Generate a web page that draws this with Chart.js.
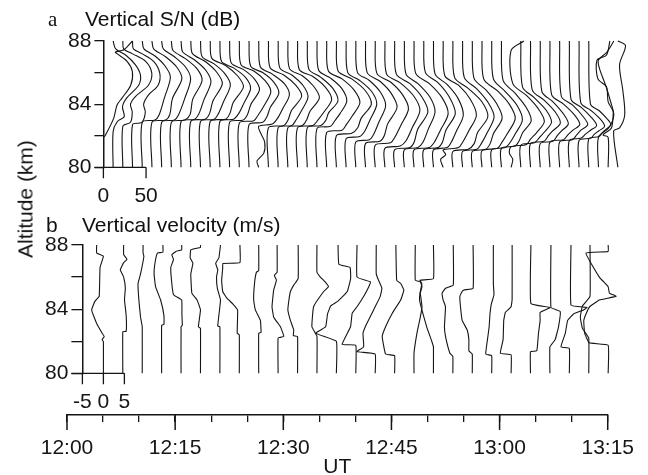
<!DOCTYPE html>
<html><head><meta charset="utf-8">
<script src="https://cdn.jsdelivr.net/npm/chart.js@4.4.1/dist/chart.umd.min.js"></script>
<style>
html,body{margin:0;padding:0;background:#fff;}
#wrap{position:relative;width:648px;height:475px;overflow:hidden;background:#fff;font-family:"Liberation Sans",Arial,sans-serif;color:#111;}
canvas{position:absolute;left:0;top:0;}
.t{position:absolute;white-space:nowrap;font-size:21px;line-height:21px;}
.serif{font-family:"Liberation Serif","Times New Roman",serif;}
</style></head><body>
<div id="wrap">
<canvas id="cA" width="648" height="475"></canvas>
<canvas id="cB" width="648" height="475"></canvas>
<canvas id="cC" width="648" height="475"></canvas>
<div class="t serif" style="left:48px;top:9px;">a</div>
<div class="t" style="left:85px;top:8px;">Vertical S/N (dB)</div>
<div class="t" style="left:46px;top:214px;">b</div>
<div class="t" style="left:82px;top:214px;">Vertical velocity (m/s)</div>
<div class="t" style="left:25px;top:199px;transform:translate(-50%,-50%) rotate(-90deg);">Altitude (km)</div>
</div>
<script>
// ---------------- DATA ----------------
// Profile start times (UT)
const snTimes = ['12:05:00','12:06:20','12:07:40','12:09:00','12:10:20','12:11:40','12:13:00','12:14:20','12:15:40','12:17:00',
 '12:18:20','12:19:40','12:21:00','12:22:20','12:23:40','12:25:00','12:26:20','12:27:40','12:29:00','12:30:20',
 '12:31:40','12:33:00','12:34:20','12:35:40','12:37:00','12:38:20','12:39:40','12:41:00','12:42:20','12:43:40',
 '12:45:00','12:46:20','12:47:40','12:49:00','12:50:20','12:51:40','12:53:00','12:54:20','12:55:40','12:57:00',
 '12:58:20','12:59:40','13:01:00','13:02:20','13:03:40','13:05:00','13:06:20','13:07:40','13:09:00','13:10:20',
 '13:11:40','13:13:00','13:14:20','13:15:40'];
const velTimes = ['12:05:00','12:07:40','12:10:20','12:13:00','12:15:40','12:18:20','12:21:00','12:23:40','12:26:20','12:29:00',
 '12:31:40','12:34:20','12:37:00','12:39:40','12:42:20','12:45:00','12:47:40','12:50:20','12:53:00','12:55:40',
 '12:58:20','13:01:00','13:03:40','13:06:20','13:09:00','13:11:40','13:14:20'];

// Vertical S/N profiles: [altitude km, S/N dB above profile baseline]
const snProfiles = [
 [[81.9,0],[82.0,2],[83.1,12],[83.95,16],[84.4,22],[85.2,32],[86.05,34],[86.7,28],[87.2,16],[87.3,14],[87.45,24],[88,34]],
 [[80,0],[82.25,0],[82.9,5],[83.2,13],[83.85,11],[84.4,16],[85.2,30],[85.85,32],[86.5,26],[87.1,15],[87.5,3],[88,0]],
 [[80,0],[82.6,0],[82.85,9],[83.5,11],[84.0,9],[84.5,15],[85.2,30],[85.95,34],[86.7,27],[87.2,11],[87.5,1],[88,0]],
 [[80,0],[82.7,0],[82.85,11],[83.5,15],[84.0,13],[84.6,19],[85.2,30],[85.95,32],[86.7,25],[87.2,11],[87.5,1],[88,0]],
 [[80,0],[82.85,0],[83.0,15],[83.35,20],[84.4,26],[85.7,33],[86.4,27],[87.05,15],[87.5,2],[88,0]],
 [[80,0],[82.85,0],[83.0,16],[83.35,21],[84.35,24],[85.6,35],[86.35,29],[87.0,16],[87.5,2],[88,0]],
 [[80,0],[82.85,0],[83.0,15],[83.35,20],[84.35,27],[85.6,34],[86.35,28],[87.0,15],[87.5,2],[88,0]],
 [[80,0],[82.85,0],[83.0,16],[83.35,22],[84.3,25],[85.5,36],[86.25,30],[86.9,16],[87.4,2],[88,0]],
 [[80,0],[82.9,0],[83.05,16],[83.4,21],[84.3,27],[85.4,35],[86.15,29],[86.8,16],[87.3,2],[88,0]],
 [[80,0],[82.9,0],[83.05,17],[83.4,22],[84.2,26],[85.3,37],[86.05,30],[86.7,17],[87.2,2],[88,0]],
 [[80,0],[82.9,0],[83.05,16],[83.4,21],[84.15,27],[85.2,35],[85.9,29],[86.55,16],[87.0,2],[88,0]],
 [[80,0],[82.9,0],[83.05,18],[83.4,23],[84.1,27],[85.1,39],[85.8,32],[86.45,18],[86.9,2],[88,0]],
 [[80,0],[82.9,0],[83.05,16],[83.4,22],[84.05,28],[85.0,36],[85.7,30],[86.3,16],[86.7,2],[88,0]],
 [[80,0],[82.85,0],[83.0,16],[83.35,21],[84.0,25],[84.9,35],[85.6,29],[86.2,16],[86.6,2],[88,0]],
 [[80,0],[82.8,0],[82.95,17],[83.3,22],[83.9,29],[84.8,37],[85.5,30],[86.1,17],[86.5,2],[88,0]],
 [[80,0],[82.7,0],[82.85,16],[83.2,21],[83.8,25],[84.7,35],[85.4,29],[86.0,16],[86.4,2],[88,0]],
 [[80,0],[80.4,-2],[80.9,6],[81.6,7],[82.2,2],[82.6,0],[82.75,16],[83.1,22],[83.7,28],[84.6,36],[85.3,30],[85.9,16],[86.35,2],[88,0]],
 [[80,0],[82.5,0],[82.65,18],[83.0,23],[83.6,27],[84.5,39],[85.2,32],[85.85,18],[86.3,2],[88,0]],
 [[80,0],[82.5,0],[82.65,16],[83.0,21],[83.55,27],[84.45,35],[85.2,29],[85.85,16],[86.3,2],[88,0]],
 [[80,0],[82.5,0],[82.65,17],[83.0,22],[83.55,26],[84.4,37],[85.15,30],[85.8,17],[86.25,2],[88,0]],
 [[80,0],[82.5,0],[82.65,18],[83.0,24],[83.5,31],[84.3,40],[85.05,33],[85.75,18],[86.2,2],[88,0]],
 [[80,0],[82.5,0],[82.65,16],[83.0,22],[83.45,25],[84.2,36],[85.0,30],[85.7,16],[86.2,2],[88,0]],
 [[80,0],[82.45,0],[82.6,16],[82.95,21],[83.4,27],[84.2,35],[85.0,29],[85.65,16],[86.15,2],[88,0]],
 [[80,0],[82.2,0],[82.35,18],[82.7,23],[83.25,30],[84.1,39],[84.9,32],[85.6,18],[86.1,2],[88,0]],
 [[80,0],[82.0,0],[82.15,18],[82.5,25],[83.1,29],[84.0,41],[84.85,34],[85.6,18],[86.1,2],[88,0]],
 [[80,0],[81.8,0],[81.95,16],[82.3,22],[83.0,28],[84.0,36],[84.8,30],[85.5,16],[86.0,2],[88,0]],
 [[80,0],[81.6,0],[81.75,16],[82.1,21],[82.85,27],[83.9,35],[84.75,29],[85.5,16],[86.0,2],[88,0]],
 [[80,0],[81.5,0],[81.65,17],[82.0,22],[82.75,26],[83.8,37],[84.7,30],[85.45,17],[86.0,2],[88,0]],
 [[80,0],[81.4,0],[81.55,18],[81.9,23],[82.65,30],[83.7,39],[84.6,32],[85.4,18],[85.95,2],[88,0]],
 [[80,0],[81.2,0],[81.35,18],[81.7,25],[82.5,32],[83.6,41],[84.5,34],[85.35,18],[85.9,2],[88,0]],
 [[80,0],[81.1,0],[81.25,18],[81.6,23],[82.4,27],[83.5,39],[84.45,32],[85.3,18],[85.9,2],[88,0]],
 [[80,0],[81.1,0],[81.25,16],[81.6,22],[82.4,28],[83.5,36],[84.45,30],[85.3,16],[85.9,2],[88,0]],
 [[80,0],[81.1,0],[81.25,18],[81.6,24],[82.35,31],[83.4,40],[84.4,33],[85.3,18],[85.95,2],[88,0]],
 [[80,0],[81.1,0],[81.25,17],[81.6,22],[82.35,26],[83.4,37],[84.45,30],[85.35,17],[86.0,2],[88,0]],
 [[80,0],[81.1,0],[81.25,16],[81.6,21],[82.3,27],[83.3,35],[84.35,29],[85.25,16],[85.9,2],[88,0]],
 [[80,0],[80.5,-3],[80.8,3],[81.1,0],[81.25,18],[81.6,23],[82.3,30],[83.3,39],[84.3,32],[85.2,18],[85.8,2],[88,0]],
 [[80,0],[81.0,0],[81.15,18],[81.5,25],[82.2,29],[83.2,41],[84.15,34],[85.0,18],[85.7,2],[88,0]],
 [[80,0],[81.0,0],[81.15,17],[81.5,22],[82.2,29],[83.2,37],[84.1,30],[84.95,17],[85.7,2],[88,0]],
 [[80,0],[81.0,0],[81.15,16],[81.5,21],[82.15,25],[83.1,35],[84.0,29],[84.9,16],[85.65,2],[88,0]],
 [[80,0],[81.05,0],[81.2,18],[81.55,23],[82.15,30],[83.1,39],[84.0,32],[84.85,18],[85.6,2],[88,0]],
 [[80,0],[81.1,0],[81.25,16],[81.6,22],[82.15,28],[83.0,36],[83.9,30],[84.8,16],[85.6,2],[88,0]],
 [[80,0],[81.2,0],[81.35,16],[81.7,21],[82.2,25],[82.95,35],[83.8,29],[84.7,16],[85.5,2],[88,0]],
 [[80,0],[80.5,2],[80.9,-2],[81.3,0],[81.45,18],[81.8,23],[82.2,30],[82.9,39],[83.7,32],[84.55,18],[85.3,2],[87.4,0],[88,15]],
 [[80,0],[81.4,0],[81.55,16],[81.9,22],[82.25,28],[82.85,36],[83.6,30],[84.4,16],[85.1,2],[88,0]],
 [[80,0],[81.5,0],[81.65,16],[82.0,21],[82.3,26],[82.8,35],[83.5,29],[84.25,16],[84.9,2],[88,0]],
 [[80,0],[81.5,0],[81.65,15],[82.0,20],[82.3,25],[82.75,33],[83.4,27],[84.15,15],[84.8,2],[88,0]],
 [[80,0],[81.6,0],[81.75,16],[82.05,21],[82.35,27],[82.7,35],[83.3,29],[84.0,16],[84.6,2],[88,0]],
 [[80,0],[81.6,0],[81.75,15],[82.05,20],[82.35,25],[82.7,33],[83.25,27],[83.95,15],[84.5,2],[88,0]],
 [[80,0],[81.7,0],[81.85,14],[82.1,19],[82.35,25],[82.65,32],[83.15,26],[83.8,14],[84.3,2],[88,0]],
 [[80,0],[81.7,0],[81.85,14],[82.1,18],[82.3,23],[82.6,30],[83.05,25],[83.6,14],[84.1,2],[88,0]],
 [[80,0],[81.8,0],[81.95,12],[82.2,16],[82.4,20],[82.7,26],[83.1,21],[83.6,12],[84.0,2],[88,0]],
 [[80,0],[81.9,0],[82.5,12],[83.3,18],[84.2,14],[85.1,9],[86.3,1],[86.8,0],[87.3,10],[88,18]],
 [[80,0],[81.9,0],[82.05,-6],[82.5,4],[83.5,6],[84.15,0],[85.1,-2],[85.6,-12],[86.8,-13],[87.1,-2],[88,2]],
 [[80,0],[82.3,-5],[82.5,2],[83.3,8],[84.8,6],[86.5,2],[87.7,9],[88,0]]
];

// Vertical velocity profiles: [altitude km, velocity m/s]
const velProfiles = [
 [[80,0],[81.97,0],[82.1,-0.3],[82.3,0.2],[82.5,-0.3],[83.1,-1.6],[83.95,-2.8],[84.5,-2.0],[84.8,-1.0],[86.6,-0.8],[87.3,0],[87.5,-1.6],[88,-1.6]],
 [[80,0],[82.6,0],[82.62,0.8],[83.6,0.8],[84.6,0.4],[85.3,0.6],[86.0,0.2],[86.45,-0.6],[86.9,0.2],[87.1,1.0],[87.4,0.2],[88,0.2]],
 [[80,0],[82.9,0],[83.5,-0.4],[84.57,-0.8],[85.6,-1.0],[86.2,-0.4],[87.3,0.4],[87.5,0.2],[88,0.2]],
 [[80,0],[83.0,0],[83.05,0.55],[83.6,0.55],[84.57,-0.24],[85.4,-1.45],[86.2,-1.8],[86.86,-1.6],[87.5,-1.0],[87.55,0.3],[88,0.3]],
 [[80,0],[82.9,0],[83.0,0.3],[83.7,0.2],[84.57,0.15],[84.9,-1.8],[85.6,-2.2],[86.6,-2.45],[87.1,-1.8],[87.4,-2.2],[87.6,-1.2],[87.7,0.15],[88,0.15]],
 [[80,0],[82.8,0],[82.9,-0.5],[83.95,0],[84.57,-0.8],[85.0,-2.05],[86.2,-2.3],[86.86,-1.8],[87.2,-2.45],[87.7,-2.3],[87.85,0],[88,0]],
 [[80,0],[82.9,0],[82.95,-0.5],[83.7,-0.2],[84.57,0.15],[85.3,-0.6],[86.0,-0.8],[86.45,-0.5],[86.86,-1.0],[87.2,-0.24],[88,0.15]],
 [[80,0],[82.4,0],[82.5,-0.5],[83.95,-0.4],[84.3,-1.45],[84.7,-3.0],[85.1,-3.95],[85.8,-4.2],[86.55,-3.95],[86.85,-3.9],[86.9,0.15],[88,0.15]],
 [[80,0],[82.5,0],[82.55,0.55],[83.3,0.4],[83.95,-0.8],[84.57,-1.2],[85.6,-1.0],[86.3,-0.55],[86.4,0],[88,0]],
 [[80,0],[82.2,0],[82.3,1.35],[82.9,0.55],[83.5,-1.05],[84.15,-1.45],[85.2,-1.05],[85.8,-0.4],[86.1,-0.9],[86.3,-0.24],[88,-0.24]],
 [[80,0],[82.3,0],[82.35,-1.0],[82.7,-0.9],[83.3,-1.7],[83.95,-2.3],[84.57,-2.05],[85.1,-1.7],[85.5,-0.9],[85.9,0.15],[88,0.15]],
 [[80,0],[82.3,0],[82.9,-1.2],[84.15,-0.8],[85.1,1.6],[85.4,2.75],[85.7,1.95],[86.0,0.8],[86.3,0],[88,0]],
 [[80,0],[82.0,0],[82.5,-4.9],[82.9,-2.55],[83.7,-2.1],[84.2,-1.35],[84.5,0.4],[85.1,2.6],[85.9,3.4],[86.6,3.25],[86.8,0.6],[88,0.4]],
 [[80,0],[81.75,0],[81.8,-3.25],[82.9,-1.25],[83.75,-0.85],[84.15,0.3],[84.8,1.9],[85.4,3.1],[85.7,3.5],[86.0,0.3],[88,0.3]],
 [[80,0],[81.2,0],[81.35,-4.35],[81.65,-2.75],[82.5,-2.9],[83.1,-2.0],[84.15,0],[84.8,1.2],[85.3,1.6],[85.8,0.8],[86.2,0.25],[88,0.25]],
 [[80,0],[81.1,0],[81.2,-2.15],[82.3,-2.95],[82.9,-2.15],[83.75,-0.55],[84.57,1.45],[85.2,2.2],[85.6,1.45],[85.8,0.5],[88,0.3]],
 [[80,0],[81.25,0],[82.5,0.7],[83.5,1.5],[84.15,1.9],[85.0,1.5],[85.4,1.9],[85.7,1.5],[85.8,0.3],[88,0.3]],
 [[80,0],[81.65,0],[82.0,-0.4],[82.9,-1.6],[83.95,-2.75],[84.57,-3.3],[85.0,-3.2],[85.6,-2.75],[85.8,-3.2],[85.9,0],[88,0]],
 [[80,0],[81.05,0],[81.25,-0.7],[82.3,-1.75],[82.9,-2.0],[84.15,-1.75],[84.57,-2.3],[85.0,-2.55],[85.3,-1.75],[85.5,0.1],[88,0.1]],
 [[80,0],[81.2,0],[81.4,-0.8],[82.1,-0.8],[82.7,-1.2],[83.3,-2.4],[84.15,-2.8],[84.8,-2.95],[85.1,-2.4],[85.2,-2.0],[85.3,0.2],[88,0.2]],
 [[80,0],[81.1,0],[81.2,-1.4],[82.1,-1.0],[82.9,-0.6],[83.7,-0.4],[84.3,-0.1],[84.9,0.55],[85.6,0.4],[88,0.4]],
 [[80,0],[81.15,0],[81.25,-2.55],[82.1,-1.9],[83.3,-1.75],[83.8,-1.35],[84.15,0],[84.6,0.25],[88,0.25]],
 [[80,0],[81.35,0],[81.4,1.5],[82.5,1.9],[83.3,2.3],[83.8,2.3],[84.1,4.7],[84.35,0.1],[88,0.1]],
 [[80,0],[81.65,0],[82.1,1.25],[82.9,2.05],[83.85,2.45],[84.1,0.25],[88,0.25]],
 [[80,0],[81.55,0],[81.65,-2.0],[82.5,-0.95],[83.3,-0.4],[83.7,1.0],[83.95,3.4],[84.1,4.2],[84.25,0.4],[88,0.4]],
 [[80,0],[82.2,0],[82.8,-1.5],[83.5,-2.0],[84.2,-1.5],[84.8,0.3],[88,0.3]],
 [[80,0],[81.75,0],[81.9,-4.5],[82.5,-5.6],[83.3,-5.8],[83.75,-5.2],[84.15,-4.4],[84.57,-2.1],[84.8,1.9],[85.0,0.3],[85.4,0],[86.0,-2.1],[87.5,-5.3],[87.6,0],[88,0]]
];

const altTicks = [80, 84, 88];
const utTickLabels = ['12:00','12:15','12:30','12:45','13:00','13:15'];
const snBar = [0, 50];      // dB scale bar
const velBar = [-5, 0, 5];  // m/s scale bar

// ---------------- DRAWING ----------------
const KSN = 0.1172;   // time-axis minutes per dB (plot scale)
const KV = 0.5769;    // time-axis minutes per m/s
const INK = '#151515';
const FONT = {family:"'Liberation Sans', Arial, sans-serif", size:21};
function hm(s){const a=s.split(':').map(Number);return (a[0]-12)*60+a[1]+a[2]/60;}

function mkSets(profiles, times, k, tension){
  return profiles.map((p,i)=>({showLine:true,pointRadius:0,borderColor:INK,borderWidth:1.1,
    tension:tension,clip:false,fill:false,
    data:p.map(([alt,v])=>({x:hm(times[i])+v*k,y:alt}))}));
}
function yAxis(width,tickLen){
  return {type:'linear',min:80,max:88,afterFit:s=>{s.width=width;},
    ticks:{stepSize:2,autoSkip:false,callback:v=>(altTicks.includes(v)?String(v):''),font:FONT,color:INK,padding:3},
    grid:{drawOnChartArea:false,drawTicks:true,tickLength:tickLen,color:INK,lineWidth:1.3},
    border:{display:true,color:INK,width:1.5}};
}
function barPlugin(values, labels, k, axisVal, t0, tickLen){
  return {id:'bar'+labels.length, afterDraw(chart){
    const ctx=chart.ctx, xs=chart.scales.x, ys=chart.scales.y;
    const y0=ys.getPixelForValue(80);
    const xa=xs.getPixelForValue(axisVal);
    const xr=xs.getPixelForValue(t0+values[values.length-1]*k);
    ctx.save();ctx.strokeStyle=INK;ctx.lineWidth=1.3;
    ctx.beginPath();ctx.moveTo(xa-tickLen,y0);ctx.lineTo(xr,y0);
    ctx.moveTo(xa,y0);ctx.lineTo(xa,y0+11);
    values.forEach(v=>{const x=xs.getPixelForValue(t0+v*k);ctx.moveTo(x,y0);ctx.lineTo(x,y0+11);});
    ctx.stroke();
    ctx.fillStyle=INK;ctx.font="21px 'Liberation Sans', Arial, sans-serif";ctx.textAlign='center';ctx.textBaseline='top';
    values.forEach((v,i)=>{const x=xs.getPixelForValue(t0+v*k);ctx.fillText(labels[i],x,y0+18);});
    ctx.restore();
  }};
}
const common={responsive:false,animation:false,events:[],plugins:{legend:{display:false},tooltip:{enabled:false}}};

const t0=hm(snTimes[0]);
new Chart(document.getElementById('cA'),{type:'scatter',
  data:{datasets:mkSets(snProfiles,snTimes,KSN,0.3)},
  options:{...common,layout:{padding:{top:41,right:35,bottom:475-167.3,left:0}},
    scales:{x:{type:'linear',min:t0,max:75,display:false},y:yAxis(67+t0*7.28,9)}},
  plugins:[barPlugin(snBar,snBar.map(String),KSN,t0,t0,9)]});

const tv0=hm(velTimes[0]);
const bMin=tv0+velBar[0]*KV;
new Chart(document.getElementById('cB'),{type:'scatter',
  data:{datasets:mkSets(velProfiles,velTimes,KV,0.1)},
  options:{...common,layout:{padding:{top:245,right:35,bottom:475-373.3,left:0}},
    scales:{x:{type:'linear',min:bMin,max:75,display:false},y:yAxis(67+bMin*7.28,11)}},
  plugins:[barPlugin(velBar,velBar.map(String),KV,bMin,tv0,11)]});

new Chart(document.getElementById('cC'),{type:'scatter',
  data:{datasets:[]},
  options:{...common,layout:{padding:{top:395,right:35,bottom:0,left:67}},
    scales:{
      y:{display:false,min:0,max:1},
      x:{type:'linear',min:0,max:75,afterFit:s=>{s.height=60;},
        ticks:{stepSize:5,autoSkip:false,maxRotation:0,font:FONT,color:INK,padding:14,
          callback:v=>(v%15===0?utTickLabels[v/15]:'')},
        grid:{drawOnChartArea:false,drawTicks:true,tickLength:7,color:INK,lineWidth:1.3},
        border:{display:true,color:INK,width:1.5}, 
        title:{display:true,text:'UT',font:{...FONT,lineHeight:0.8},color:INK,padding:{top:0,bottom:-1}}}}},
  plugins:[{id:'major',afterDraw(chart){
    const ctx=chart.ctx,xs=chart.scales.x,y=xs.top;
    ctx.save();ctx.strokeStyle=INK;ctx.lineWidth=1.5;ctx.beginPath();
    utTickLabels.forEach((l,i)=>{const x=xs.getPixelForValue(i*15);ctx.moveTo(x,y);ctx.lineTo(x,y+15);});
    ctx.stroke();ctx.restore();}}]});
</script>
</body></html>
